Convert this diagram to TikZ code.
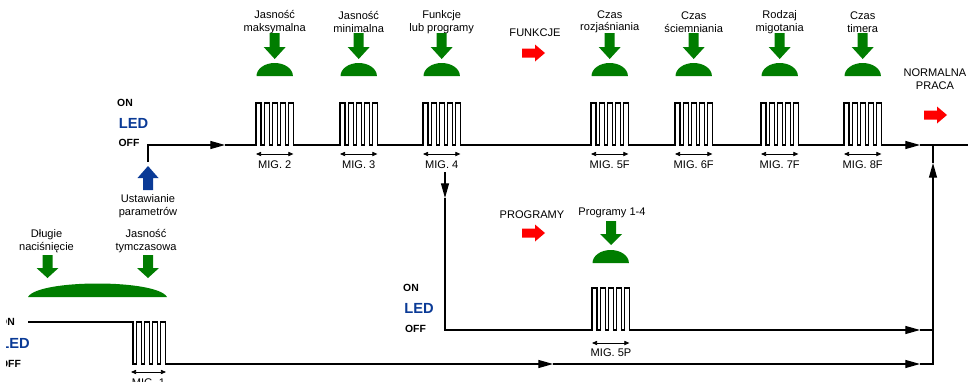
\documentclass[tikz,border=0pt]{standalone}
\usepackage{fontspec}
\setmainfont{Liberation Sans}
\usetikzlibrary{arrows.meta}
\definecolor{pressgreen}{RGB}{0,125,0}
\definecolor{ledblue}{RGB}{10,58,150}
\definecolor{modered}{RGB}{255,0,0}
% one train of five blinks, 42 px high
\newcommand{\pulses}{foreach \i in {1,...,5} {-- ++(0,-42) -- ++(5,0) -- ++(0,42) -- ++(3.1,0)}}
\begin{document}
\begin{tikzpicture}[x=0.75pt, y=-0.75pt,
    every node/.style={font=\fontsize{8.3}{9.4}\selectfont, inner sep=0pt, align=center},
    wave/.style={line width=0.9pt},
    flow/.style={wave, -{Triangle[length=11pt, width=6pt]}},
    migspan/.style={line width=0.6pt, {Triangle[length=3.8pt, width=3.2pt]}-{Triangle[length=3.8pt, width=3.2pt]}},
    levels/.style={font=\fontsize{7.8}{9}\selectfont\bfseries},
    led/.style={font=\fontsize{11}{12}\selectfont\bfseries, text=ledblue},
    press/.style={fill=pressgreen},
    modearrow/.style={fill=modered},
  ]
  \useasboundingbox (0,0) rectangle (968,382);
  \clip (0,0) rectangle (968,382);

  % Setting steps on the top line
  \foreach \x/\n/\t/\m in {256/max/{Jasność\\maksymalna}/2, 340/min/{Jasność\\minimalna}/3,
      423/fun/{Funkcje\\lub programy}/4, 591/roz/{Czas\\rozjaśniania}/5F,
      675/sci/{Czas\\ściemniania}/6F, 761/mig/{Rodzaj\\migotania}/7F, 844/tim/{Czas\\timera}/8F} {
    \coordinate (p\n) at (\x,145);
    \node (lab\n) at (\x+18.7,22) {\t};
    \fill[press] (\x+13.7,33) -- ++(10,0) -- ++(0,14) -- ++(6,0) -- ++(-11,12) -- ++(-11,-12) -- ++(6,0) -- cycle;
    \fill[press] (\x+0.5,76) arc[start angle=180, end angle=360, x radius=18.2, y radius=13];
    \draw[migspan] (\x,154) -- (\x+37.4,154);
    \node (mig\n) at (\x+18.7,165) {MIG. \m};
  }

  % Top LED line
  \node[levels] (on1)  at (125,103) {ON};
  \node[led]    (led1) at (133.5,123) {LED};
  \node[levels] (off1) at (129,143) {OFF};
  \coordinate (stub) at (148,162);
  \coordinate (t0) at (148,145);
  \coordinate (ta) at (225,145);
  \coordinate (tb) at (920,145);
  \coordinate (tend) at (968,145);
  \draw[flow] (stub) -- (t0) -- (ta);
  \draw[flow] (ta) -- (pmax) \pulses -- (pmin) \pulses -- (pfun) \pulses -- (proz) \pulses
    -- (psci) \pulses -- (pmig) \pulses -- (ptim) \pulses -- (tb);
  \draw[wave] (tb) -- (tend);
  \fill[ledblue] (143,190) -- (153,190) -- (153,178) -- (158.5,178) -- (148,166) -- (137.5,178) -- (143,178) -- cycle;
  \node (param) at (148,206) {Ustawianie\\parametrów};

  % Mode arrows
  \node (funkcje) at (535,33) {FUNKCJE};
  \node (programy) at (532,215) {PROGRAMY};
  \node (normal) at (935,79) {NORMALNA\\PRACA};
  \foreach \x/\y in {522/53, 522/233, 924/115}
    \fill[modearrow] (\x,\y-4.5) -- ++(13,0) -- ++(0,-4) -- ++(10,8.5) -- ++(-10,8.5) -- ++(0,-4) -- ++(-13,0) -- cycle;

  % Program branch
  \node[levels] (on2)  at (411,288) {ON};
  \node[led]    (led2) at (419,308) {LED};
  \node[levels] (off2) at (415.5,329) {OFF};
  \node (prog) at (612,213) {Programy 1-4};
  \fill[press] (606,221) -- ++(10,0) -- ++(0,13) -- ++(6,0) -- ++(-11,11) -- ++(-11,-11) -- ++(6,0) -- cycle;
  \fill[press] (592.5,263) arc[start angle=180, end angle=360, x radius=18.2, y radius=13];
  \coordinate (m0) at (445,172);
  \coordinate (ma) at (445,198);
  \coordinate (mc) at (445,330);
  \coordinate (p5p) at (592,330);
  \coordinate (mb) at (920,330);
  \coordinate (jm) at (933,330);
  \draw[flow] (m0) -- (ma);
  \draw[flow] (ma) -- (mc) -- (p5p) \pulses -- (mb);
  \draw[wave] (mb) -- (jm);
  \draw[migspan] (592,343) -- (629.4,343);
  \node (mig5p) at (611,353) {MIG. 5P};

  % Long press line (labels cut at the left edge)
  \begin{scope}
    \clip (6.5,300) rectangle (60,380);
    \node[levels] (on0)  at (7,322) {ON};
    \node[led]    (led0) at (15,343) {LED};
    \node[levels] (off0) at (10.5,364) {OFF};
  \end{scope}
  \node (dlugie) at (46.5,241) {Długie\\naciśnięcie};
  \node (jasno) at (146,241) {Jasność\\tymczasowa};
  \foreach \c in {47.5, 148}
    \fill[press] (\c-5,255) -- ++(10,0) -- ++(0,13) -- ++(6,0) -- ++(-11,10) -- ++(-11,-10) -- ++(6,0) -- cycle;
  \fill[press] (28,297) .. controls (38,279) and (157,279) .. (167,297) -- cycle;
  \coordinate (b0) at (28,322);
  \coordinate (b1) at (133,322);
  \coordinate (b2) at (133,364);
  \coordinate (ba) at (553,364);
  \coordinate (bb) at (920,364);
  \coordinate (jb) at (933,364);
  \coordinate (jt) at (933,163);
  \coordinate (jtop) at (933,145);
  \draw[flow] (b0) -- (b1) -- (b2) foreach \i in {1,...,4} {-- ++(3.1,0) -- ++(0,-42) -- ++(5,0) -- ++(0,42)} -- (ba);
  \draw[flow] (ba) -- (bb);
  \draw[flow] (bb) -- (jb) -- (jt);
  \draw[wave] (jt) -- (jtop);
  \draw[migspan] (131,372) -- (166,372);
  \node (mig1) at (148.5,383) {MIG. 1};
\end{tikzpicture}
\end{document}
